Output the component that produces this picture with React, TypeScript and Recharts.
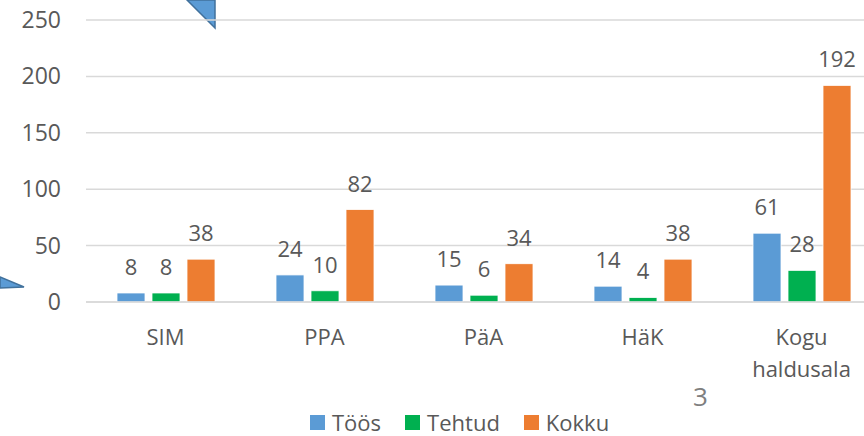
import { BarChart, Bar, XAxis, YAxis, CartesianGrid, Legend, LabelList } from "recharts";

const CATEGORIES = ["SIM", "PPA", "PäA", "HäK", "Kogu haldusala"];
const TOOS = [8, 24, 15, 14, 61];
const TEHTUD = [8, 10, 6, 4, 28];
const KOKKU = [38, 82, 34, 38, 192];
const Y_TICKS = [0, 50, 100, 150, 200, 250];

const SERIES = [
  { key: "toos", name: "Töös", color: "#5B9BD5" },
  { key: "tehtud", name: "Tehtud", color: "#00B050" },
  { key: "kokku", name: "Kokku", color: "#ED7D31" },
];

const FONT = "'Open Sans', 'Noto Sans', sans-serif";
const TEXT = "#595959";

const data = CATEGORIES.map((c, i) => ({
  cat: c,
  toos: TOOS[i],
  tehtud: TEHTUD[i],
  kokku: KOKKU[i],
}));

function CatTick(props: any) {
  const { x, y, payload } = props;
  const words = String(payload.value).split(" ");
  return (
    <text x={x} y={y} textAnchor="middle" fill={TEXT} fontSize={22} fontFamily={FONT}>
      {words.map((w, i) => (
        <tspan key={i} x={x} dy={i === 0 ? 43 : 32}>
          {w}
        </tspan>
      ))}
    </text>
  );
}

function ValueTick(props: any) {
  const { y, payload } = props;
  // labels end 25px left of the plot edge
  return (
    <text x={86 - 25} y={y} dy={8} textAnchor="end" fill={TEXT} fontSize={23} fontFamily={FONT}>
      {payload.value}
    </text>
  );
}

function LegendBox() {
  return (
    <div
      style={{
        display: "flex",
        alignItems: "center",
        paddingLeft: 310,
        height: 34,
        lineHeight: "24px",
        position: "relative",
        top: 3,
        fontFamily: FONT,
      }}
    >
      {SERIES.map((s) => (
        <div key={s.key} style={{ display: "flex", alignItems: "center", marginRight: 24 }}>
          <span style={{ width: 15, height: 15, background: s.color, display: "inline-block", marginRight: 7 }} />
          <span style={{ fontSize: 22, color: TEXT }}>{s.name}</span>
        </div>
      ))}
    </div>
  );
}

export default function App() {
  return (
    <div style={{ position: "absolute", left: 0, top: 0, width: 864, height: 436, overflow: "hidden", background: "#fff" }}>
      <svg width={864} height={436} style={{ position: "absolute", left: 0, top: 0 }}>
        <polygon points="187,0 215,0 215,28" fill="#5B9BD5" stroke="#41719C" strokeWidth={1.5} />
        <polygon points="0,277 24,287 0,288" fill="#5B9BD5" stroke="#41719C" strokeWidth={1.5} />
      </svg>
      <div style={{ position: "absolute", left: 0, top: 0 }}>
        <BarChart
          width={881}
          height={436}
          data={data}
          margin={{ top: 20, right: 0, left: 0, bottom: 0 }}
          barSize={28}
          barGap={7}
        >
          <CartesianGrid vertical={false} stroke="#D9D9D9" strokeWidth={1.5} />
          <XAxis
            dataKey="cat"
            height={100}
            tick={<CatTick />}
            tickLine={false}
            tickSize={0}
            tickMargin={0}
            axisLine={{ stroke: "#D9D9D9", strokeWidth: 1.5 }}
            interval={0}
          />
          <YAxis
            width={86}
            domain={[0, 250]}
            ticks={Y_TICKS}
            axisLine={false}
            tickLine={false}
            tick={<ValueTick />}
          />
          <Legend verticalAlign="bottom" content={<LegendBox />} />
          {SERIES.map((s) => (
            <Bar key={s.key} dataKey={s.key} name={s.name} fill={s.color} stroke="#ffffff" strokeWidth={0.8} isAnimationActive={false}>
              <LabelList
                dataKey={s.key}
                position="top"
                offset={18}
                style={{ fontSize: 22, fill: TEXT, fontFamily: FONT }}
              />
            </Bar>
          ))}
        </BarChart>
      </div>
      <div style={{ position: "absolute", left: 693, top: 378, fontSize: 26, color: "#7F7F7F", fontFamily: FONT }}>3</div>
    </div>
  );
}
